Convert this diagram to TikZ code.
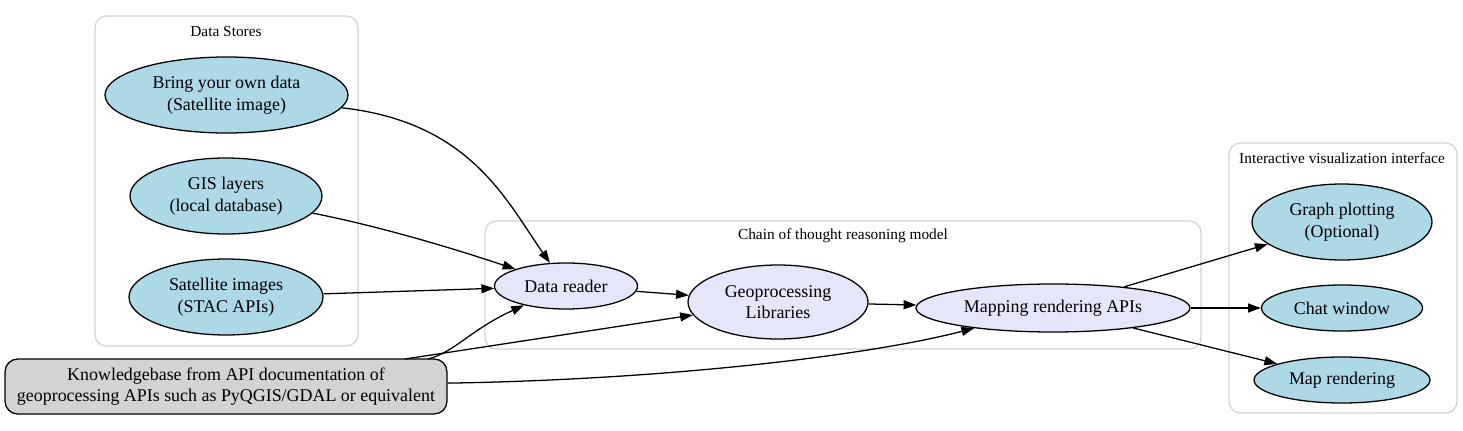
\documentclass[tikz,border=0pt]{standalone}
\usepackage{fontspec}
\setmainfont{Liberation Serif}
\usetikzlibrary{shapes.geometric,arrows.meta}
\newcommand\pxu{0.78125pt}
\definecolor{lblue}{HTML}{ADD8E6}
\definecolor{lav}{HTML}{E6E6FA}
\definecolor{lgray}{HTML}{D3D3D3}
\definecolor{cgray}{HTML}{D3D3D3}
\begin{document}
\begin{tikzpicture}[x=\pxu,y=-\pxu,
  ell/.style={ellipse,draw=black,line width=1pt,inner sep=0pt,
    font=\fontsize{14}{16.8}\selectfont,align=center},
  store/.style={ell,fill=lblue},
  proc/.style={ell,fill=lav},
  sz/.style 2 args={minimum width={#1*\pxu},minimum height={#2*\pxu}},
  cluster/.style={draw=cgray,line width=1pt,rounded corners=9pt},
  clabel/.style={font=\fontsize{12}{14}\selectfont,inner sep=0pt},
  conn/.style={draw,line width=1pt,-{Triangle[length=10pt,width=7pt]}}
]
\useasboundingbox (0,0) rectangle (1463,431);

% clusters
\draw[cluster] (95,16) rectangle (358,346);
\node[clabel] (dslabel) at (226,31) {Data Stores};
\draw[cluster] (485,221) rectangle (1201,349);
\node[clabel] (chlabel) at (843,236) {Chain of thought reasoning model};
\draw[cluster] (1229,143) rectangle (1457,413);
\node[clabel] (vilabel) at (1342,158) {Interactive visualization interface};

% data stores
\node[store,sz={243}{76}] (bring) at (226.5,95) {Bring your own data\\(Satellite image)};
\node[store,sz={192}{76}] (gis) at (226,196) {GIS layers\\(local database)};
\node[store,sz={194}{76}] (sat) at (226,297) {Satellite images\\(STAC APIs)};

% knowledge base
\node[draw=black,fill=lgray,line width=1pt,rounded corners=10pt,inner sep=0pt,
  minimum width={442*\pxu},minimum height={55*\pxu},align=center,
  font=\fontsize{14}{16.8}\selectfont] (kb) at (226,386.5)
  {Knowledgebase from API documentation of\\geoprocessing APIs such as PyQGIS/GDAL or equivalent};

% chain
\node[proc,sz={143}{46}] (dr) at (566,286) {Data reader};
\node[proc,sz={180}{74}] (geo) at (778,302) {Geoprocessing\\Libraries};
\node[proc,sz={274}{48}] (map) at (1053,308) {Mapping rendering APIs};

% interface
\node[store,sz={180}{76}] (graph) at (1342,222) {Graph plotting\\(Optional)};
\node[store,sz={161}{46}] (chat) at (1342,308) {Chat window};
\node[store,sz={176}{46}] (mapr) at (1342,380) {Map rendering};

\coordinate (kbA) at (405,359);
\coordinate (kbB) at (428,359);

% edges
\draw[conn] (bring) .. controls (470,122) and (506,200) .. (dr);
\draw[conn] (gis) .. controls (383,227) and (458,250) .. (dr);
\draw[conn] (sat) -- (dr);
\draw[conn] (kbB) .. controls (455,352) and (470,330) .. (dr);
\draw[conn] (kbA) -- (geo);
\draw[conn] (kb) .. controls (650,380) and (858,358) .. (map);
\draw[conn] (dr) -- (geo);
\draw[conn] (geo) -- (map);
\draw[conn] (map) -- (graph);
\draw[conn] (map) -- (chat);
\draw[conn] (map) -- (mapr);
\end{tikzpicture}
\end{document}
